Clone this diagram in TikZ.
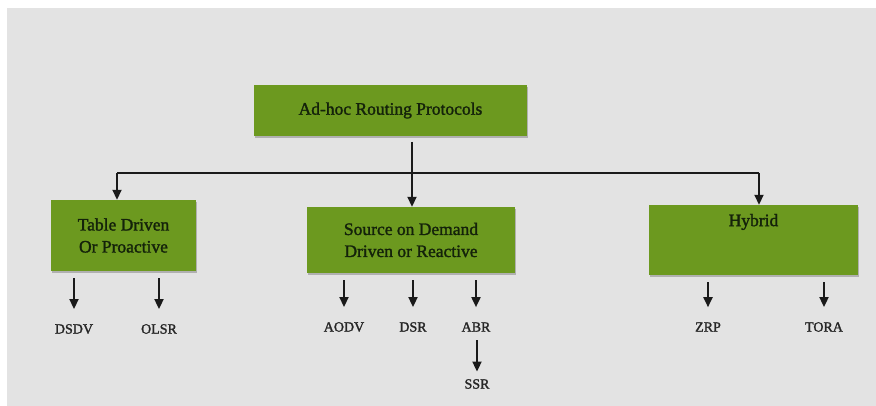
\documentclass[tikz,border=0pt]{standalone}
\usepackage{fontspec}
\setmainfont{Liberation Serif}
\newfontfamily\heavyserif[FakeBold=1.6]{Liberation Serif}
\usetikzlibrary{arrows.meta,calc,shadows}
\definecolor{panel}{HTML}{E3E3E3}
\definecolor{boxgreen}{HTML}{6C991F}
\definecolor{boxtext}{HTML}{14220A}
\definecolor{leaftext}{HTML}{262626}
\definecolor{wire}{HTML}{1A1A1A}
\begin{document}
\begin{tikzpicture}[x=1pt,y=-1pt,
  catbox/.style={fill=boxgreen, draw=none, inner sep=0pt, align=center,
    text=boxtext, font=\heavyserif\fontsize{17.5}{22}\selectfont,
    drop shadow={shadow xshift=1pt, shadow yshift=-2pt, fill=black!55, opacity=.45}},
  leaf/.style={inner sep=0pt, text=leaftext,
    font=\heavyserif\fontsize{14}{16}\selectfont},
  wireline/.style={draw=wire, line width=1.8pt},
  arr/.style={wireline, -{Triangle[length=10pt,width=9pt]}}]
  % canvas and grey panel
  \useasboundingbox (0,0) rectangle (876,406);
  \fill[white] (0,0) rectangle (876,406);
  \fill[panel] (7,8) rectangle (876,406);

  % category boxes
  \node[catbox, minimum width=273pt, minimum height=51pt] (root) at (390.5,110.5)
    {Ad-hoc Routing Protocols};
  \node[catbox, minimum width=145pt, minimum height=71pt] (table) at (123.5,235.5)
    {Table Driven\\Or Proactive};
  \node[catbox, minimum width=208pt, minimum height=66pt] (mid) at (411,240)
    {Source on Demand\\Driven or Reactive};
  \node[catbox, minimum width=209pt, minimum height=70pt,
    label={[name=hybridtxt, anchor=north, yshift=-9pt, text=boxtext,
            font=\heavyserif\fontsize{17.5}{22}\selectfont, inner sep=0pt]north:Hybrid}]
    (hybrid) at (753.5,240) {};

  % protocol names
  \node[leaf] (dsdv) at (74,329) {DSDV};
  \node[leaf] (olsr) at (159,329) {OLSR};
  \node[leaf] (aodv) at (344,327) {AODV};
  \node[leaf] (dsr)  at (413,327) {DSR};
  \node[leaf] (abr)  at (476,327) {ABR};
  \node[leaf] (ssr)  at (477,384) {SSR};
  \node[leaf] (zrp)  at (708,327) {ZRP};
  \node[leaf] (tora) at (824,327) {TORA};

  % bus from the root to the three categories
  \coordinate (drop) at (412,142);
  \coordinate (busL) at (117,173);
  \coordinate (busR) at (759,173);
  \draw[wireline] (busL) -- (busR);
  \draw[arr] (drop) -- (drop |- mid.north);
  \draw[arr] (busL) -- (busL |- table.north);
  \draw[arr] (busR) -- (busR |- hybrid.north);

  % category to protocol arrows
  \foreach \cat/\proto in {table/dsdv, table/olsr, mid/aodv, mid/dsr, mid/abr,
                           hybrid/zrp, hybrid/tora}
    \draw[arr] ([yshift=-7pt]\cat.south -| \proto) -- ([yshift=15pt]\proto.north);
  \draw[arr] ([yshift=-8.5pt]abr.south -| ssr) -- ([yshift=7.5pt]ssr.north);
\end{tikzpicture}
\end{document}
